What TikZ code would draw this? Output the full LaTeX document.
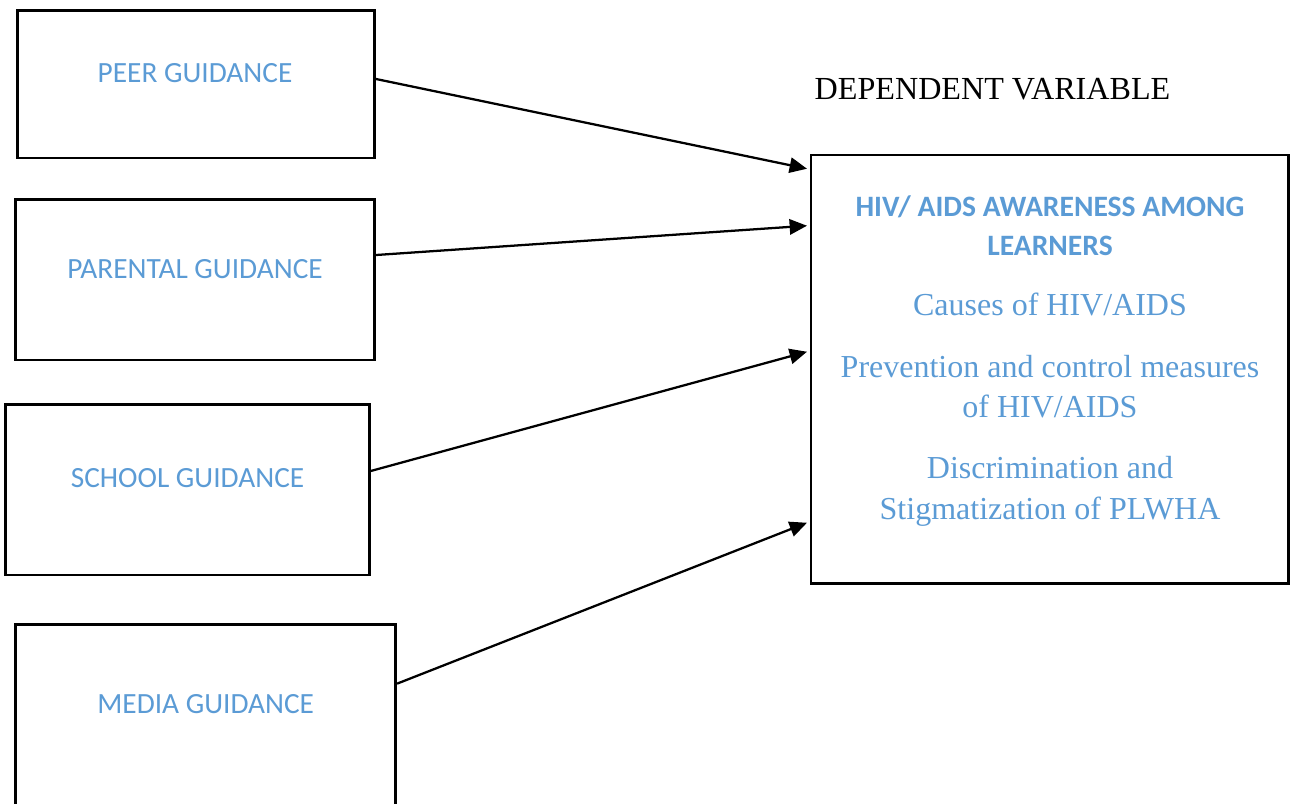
\documentclass[tikz,border=0pt]{standalone}
\usepackage{fontspec}
\setmainfont{Liberation Serif}
\newfontfamily\calib{Carlito}
\usetikzlibrary{arrows.meta}
\definecolor{lblue}{HTML}{5B9BD5}
\begin{document}
\begin{tikzpicture}[x=0.75pt,y=-0.75pt,
 box/.style={draw,line width=2pt,rectangle,inner sep=0pt},
 lbl/.style={anchor=base,text=lblue,font=\calib\fontsize{22}{26}\selectfont,inner sep=0pt},
 hd/.style={anchor=base,text=lblue,font=\calib\bfseries\fontsize{22.2}{26}\selectfont,inner sep=0pt},
 ser/.style={anchor=base,text=lblue,font=\fontsize{24}{28}\selectfont,inner sep=0pt},
 arr/.style={line width=1.7pt,-{Triangle[length=13pt,width=11.5pt]}}]
\useasboundingbox (0,0) rectangle (1295,803);
% boxes
\node[box,minimum width=267.75pt,minimum height=110.7pt] (peer) at (196,84.3) {};
\node[box,minimum width=268.95pt,minimum height=120.5pt] (parent) at (195,279.7) {};
\node[box,minimum width=272.7pt,minimum height=128pt] (school) at (187.5,489.7) {};
\node[box,minimum width=285pt,minimum height=161.5pt] (media) at (205.7,732.4) {};
\node[box,minimum width=358.3pt,minimum height=321.2pt] (dv) at (1049.85,369.2) {};
% labels
\node[lbl] (tpeer) at (195,82.7) {PEER GUIDANCE};
\node[lbl] (tparent) at (195,278) {PARENTAL GUIDANCE};
\node[lbl] (tschool) at (187.5,487.7) {SCHOOL GUIDANCE};
\node[lbl] (tmedia) at (205.7,713) {MEDIA GUIDANCE};
\node[anchor=base,inner sep=0pt,font=\fontsize{24.1}{28}\selectfont] (dep) at (992.5,99) {DEPENDENT VARIABLE};
\node[hd] (h1) at (1050,216) {HIV/ AIDS AWARENESS AMONG};
\node[hd] (h2) at (1050,255) {LEARNERS};
\node[ser] (s1) at (1050,315.7) {Causes of HIV/AIDS};
\node[ser] (s2) at (1050,377) {Prevention and control measures};
\node[ser] (s3) at (1050,417) {of HIV/AIDS};
\node[ser] (s4) at (1050,478) {Discrimination and};
\node[ser] (s5) at (1050,519) {Stigmatization of PLWHA};
% arrows
\draw[arr] ([yshift=4pt]peer.east) -- ([xshift=-2pt,yshift=-11.25pt]dv.north west);
\draw[arr] ([yshift=18.5pt]parent.east) -- ([xshift=-2pt,yshift=-54pt]dv.north west);
\draw[arr] ([yshift=14pt]school.east) -- ([xshift=-2pt,yshift=-148.5pt]dv.north west);
\draw[arr] ([yshift=-45.2pt]media.north east) -- ([xshift=-2pt,yshift=-276.75pt]dv.north west);
\end{tikzpicture}
\end{document}
